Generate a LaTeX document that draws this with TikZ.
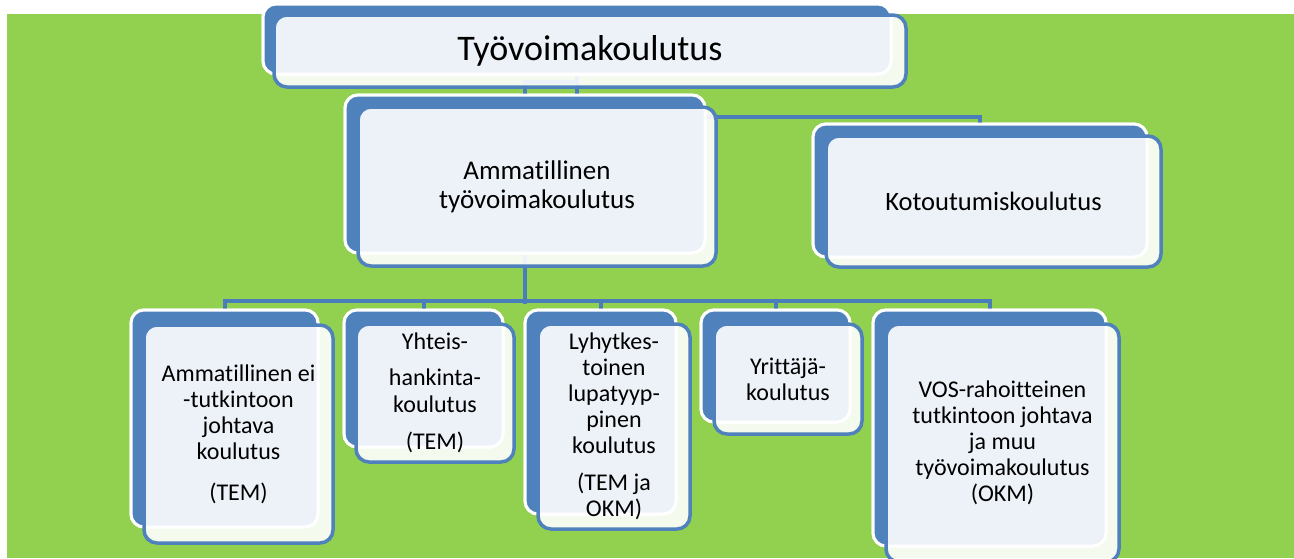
\documentclass[tikz,border=0pt]{standalone}
\usepackage{fontspec}
\setmainfont{Carlito}[RawFeature={-liga;-clig;-dlig;-calt}]
\definecolor{bggreen}{HTML}{92D050}
\definecolor{boxblue}{HTML}{4F81BD}
\definecolor{lineblue}{HTML}{4A7EBB}
\begin{document}
\begin{tikzpicture}[x=1pt,y=-1pt,
  backbox/.style={rectangle, fill=boxblue, draw=white, line width=3pt, rounded corners=13pt, inner sep=0pt},
  frontbox/.style={rectangle, fill=white, fill opacity=0.9, draw=boxblue, draw opacity=1, text opacity=1,
    line width=3.5pt, rounded corners=13pt, inner sep=0pt, align=center, text=black},
  smalltext/.style={font=\fontsize{24}{26}\selectfont},
  conn/.style={draw=lineblue, line width=4pt}]
\useasboundingbox (0,0) rectangle (1294,558);
\fill[white] (0,0) rectangle (1294,558);
\fill[bggreen] (7,14) rectangle (1294,558);

% back nodes, used by connectors
\path
  (577,39)      node[backbox, minimum width=628pt, minimum height=70pt] (tb) {}
  (525,174)     node[backbox, minimum width=360pt, minimum height=158pt] (ammb) {}
  (980,190.5)   node[backbox, minimum width=334pt, minimum height=133pt] (kb) {}
  (224.5,418.5) node[backbox, minimum width=187pt, minimum height=217pt] (b1b) {}
  (423.5,378.5) node[backbox, minimum width=159pt, minimum height=137pt] (b2b) {}
  (600.5,412)   node[backbox, minimum width=151pt, minimum height=204pt] (b3b) {}
  (775.5,366)   node[backbox, minimum width=149pt, minimum height=112pt] (b4b) {}
  (989.5,428)   node[backbox, minimum width=233pt, minimum height=236pt] (b5b) {};

% connectors (drawn first, then boxes repainted over them)
\draw[conn] (tb.south) -- ++(0,6) -| (ammb.north);
\draw[conn] (tb.south) -- ++(0,41) -| (kb.north);
\draw[conn] (ammb.south) -- ++(0,49);
\draw[conn] (b1b.north) -- ++(0,-8) -| (b5b.north);
\draw[conn] (b2b.north) -- ++(0,-8);
\draw[conn] (b3b.north) -- ++(0,-8);
\draw[conn] (b4b.north) -- ++(0,-8);

% top box
\node[backbox, minimum width=628pt, minimum height=70pt] (tb2) at (tb) {};
\node[frontbox, minimum width=632pt, minimum height=72pt, font=\fontsize{36}{40}\selectfont] (t) at (590,51) {Työvoimakoulutus};

% second level
\node[backbox, minimum width=360pt, minimum height=158pt] (ammb2) at (ammb) {};
\node[frontbox, minimum width=358pt, minimum height=159pt, font=\fontsize{27}{29}\selectfont] (amm) at (537,186.5) {Ammatillinen\\työvoimakoulutus};

\node[backbox, minimum width=334pt, minimum height=133pt] (kb2) at (kb) {};
\node[frontbox, minimum width=335pt, minimum height=131pt, font=\fontsize{26.5}{29}\selectfont] (k) at (993.5,201.5) {Kotoutumiskoulutus};

% third level
\node[backbox, minimum width=187pt, minimum height=217pt] (b1b2) at (b1b) {};
\node[frontbox, smalltext, minimum width=189pt, minimum height=218pt] (b1) at (238.5,434) {Ammatillinen ei\\-tutkintoon\\johtava\\koulutus\\[15pt](TEM)};

\node[backbox, minimum width=159pt, minimum height=137pt] (b2b2) at (b2b) {};
\node[frontbox, smalltext, minimum width=158pt, minimum height=138pt] (b2) at (435,393) {Yhteis-\\[10pt]hankinta-\\[1pt]koulutus\\[11pt](TEM)};

\node[backbox, minimum width=151pt, minimum height=204pt] (b3b2) at (b3b) {};
\node[frontbox, smalltext, minimum width=152pt, minimum height=205pt] (b3) at (614,426.5) {Lyhytkes-\\toinen\\lupatyyp-\\pinen\\koulutus\\[11pt](TEM ja\\OKM)};

\node[backbox, minimum width=149pt, minimum height=112pt] (b4b2) at (b4b) {};
\node[frontbox, smalltext, minimum width=148pt, minimum height=110pt] (b4) at (788,379) {Yrittäjä-\\koulutus};

\node[backbox, minimum width=233pt, minimum height=236pt] (b5b2) at (b5b) {};
\node[frontbox, smalltext, minimum width=233pt, minimum height=238pt] (b5) at (1002.5,443) {VOS-rahoitteinen\\tutkintoon johtava\\ja muu\\työvoimakoulutus\\(OKM)};
\end{tikzpicture}
\end{document}
